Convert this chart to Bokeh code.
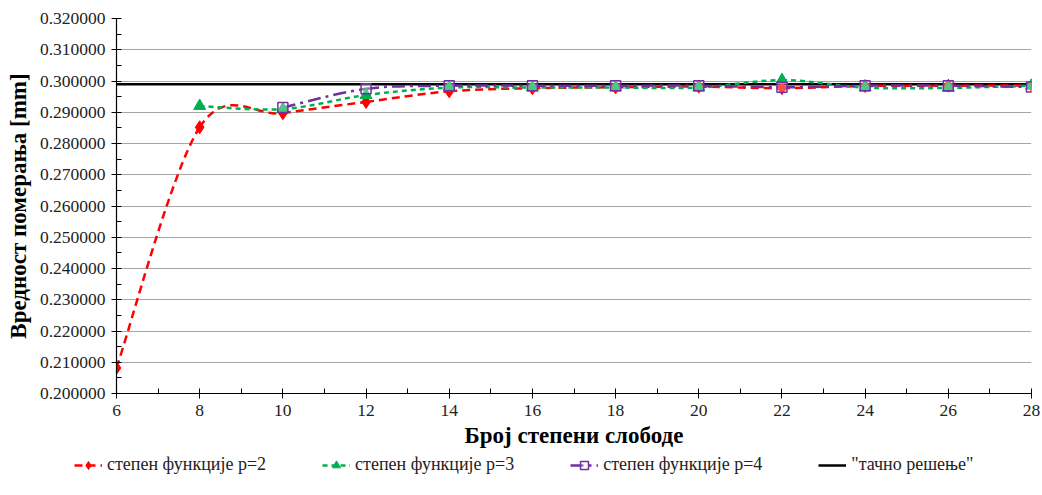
from bokeh.plotting import figure
from bokeh.layouts import column
from bokeh.models import Legend, LegendItem, PrintfTickFormatter, FixedTicker, Range1d
from bokeh.embed import file_html
from bokeh.resources import INLINE

x_p2 = [6, 8, 10, 12, 14, 16, 18, 20, 22, 24, 26, 28]
y_p2 = [0.2082, 0.2852, 0.2897, 0.2933, 0.2967, 0.2977, 0.2980, 0.2982, 0.2977, 0.2984, 0.2985, 0.2986]
x_p3 = [8, 10, 12, 14, 16, 18, 20, 22, 24, 26, 28]
y_p3 = [0.2920, 0.2910, 0.2955, 0.2979, 0.2979, 0.2979, 0.2979, 0.3003, 0.2979, 0.2978, 0.2985]
x_p4 = [10, 12, 14, 16, 18, 20, 22, 24, 26, 28]
y_p4 = [0.2915, 0.2975, 0.2985, 0.2985, 0.2985, 0.2985, 0.2980, 0.2985, 0.2985, 0.2981]
x_exact = [6, 28]
y_exact = [0.2990, 0.2990]

x_ticks = [6, 8, 10, 12, 14, 16, 18, 20, 22, 24, 26, 28]
y_ticks = [0.20, 0.21, 0.22, 0.23, 0.24, 0.25, 0.26, 0.27, 0.28, 0.29, 0.30, 0.31, 0.32]
labels = ["степен функције p=2", "степен функције p=3", "степен функције p=4", "\"тачно решење\""]

RED = "#FF0000"
GREEN = "#00B050"
PURPLE = "#7030A0"
FONT = "Liberation Serif"


def smooth_segments(xs, ys):
    """Excel-style smoothed line: one cubic Bezier per pair of data points,
    control points derived from neighbouring data points (Catmull-Rom, 1/6)."""
    n = len(xs)
    seg = dict(x0=[], y0=[], x1=[], y1=[], cx0=[], cy0=[], cx1=[], cy1=[])
    for i in range(n - 1):
        xp, yp = (xs[i - 1], ys[i - 1]) if i > 0 else (xs[i], ys[i])
        xn, yn = (xs[i + 2], ys[i + 2]) if i + 2 < n else (xs[i + 1], ys[i + 1])
        seg["x0"].append(xs[i]); seg["y0"].append(ys[i])
        seg["x1"].append(xs[i + 1]); seg["y1"].append(ys[i + 1])
        seg["cx0"].append(xs[i] + (xs[i + 1] - xp) / 6.0)
        seg["cy0"].append(ys[i] + (ys[i + 1] - yp) / 6.0)
        seg["cx1"].append(xs[i + 1] - (xn - xs[i]) / 6.0)
        seg["cy1"].append(ys[i + 1] - (yn - ys[i]) / 6.0)
    return seg


p = figure(width=1042, height=450, output_backend="svg", toolbar_location=None,
           x_range=Range1d(6, 28), y_range=Range1d(0.20, 0.32),
           min_border_left=116, min_border_right=11, min_border_top=18, min_border_bottom=57)
p.outline_line_color = None
p.background_fill_color = "white"
p.border_fill_color = "white"
p.frame_align = False

p.xgrid.grid_line_color = None
p.ygrid.grid_line_color = "#A6A6A6"
p.ygrid.grid_line_width = 1.2
p.ygrid.ticker = FixedTicker(ticks=y_ticks)

p.xaxis.ticker = FixedTicker(ticks=x_ticks, minor_ticks=[7, 9, 11, 13, 15, 17, 19, 21, 23, 25, 27])
p.yaxis.ticker = FixedTicker(ticks=y_ticks, minor_ticks=[0.205 + 0.01 * i for i in range(12)])
p.yaxis.formatter = PrintfTickFormatter(format="%.6f")

for ax in (p.xaxis, p.yaxis):
    ax.axis_line_color = "black"
    ax.axis_line_width = 1.2
    ax.major_tick_line_color = "black"
    ax.minor_tick_line_color = "black"
    ax.major_tick_in = 5
    ax.major_tick_out = 5
    ax.minor_tick_in = 5
    ax.minor_tick_out = 0
    ax.major_label_text_font = FONT
    ax.major_label_text_font_size = "17.5px"
    ax.major_label_text_color = "#222222"
    ax.axis_label_text_font = FONT
    ax.axis_label_text_font_size = "23px"
    ax.axis_label_text_font_style = "bold"
    ax.axis_label_text_color = "black"

p.xaxis.axis_label = "Број степени слободе"
p.yaxis.axis_label = "Вредност померања [mm]"
p.xaxis.axis_label_standoff = 4
p.yaxis.axis_label_standoff = 6
p.xaxis.major_label_standoff = 6
p.yaxis.major_label_standoff = 6

DASH2 = "8 5"
DASH3 = "5 4"
DASH4 = "13 5 3 5"

# main chart: smoothed lines (Bezier through the data points) + markers
p.line(x_exact, y_exact, line_color="black", line_width=2.5)
p.bezier(line_color=RED, line_width=2.5, line_dash=DASH2, **smooth_segments(x_p2, y_p2))
p.bezier(line_color=GREEN, line_width=2.5, line_dash=DASH3, **smooth_segments(x_p3, y_p3))
p.bezier(line_color=PURPLE, line_width=2.5, line_dash=DASH4, **smooth_segments(x_p4, y_p4))
p.scatter(x_p2, y_p2, marker="diamond", size=13, fill_color=RED, line_color=RED)
p.scatter(x_p3, y_p3, marker="triangle", size=12, fill_color=GREEN, line_color=GREEN)
p.scatter(x_p4, y_p4, marker="square", size=10, fill_color="white", fill_alpha=0.3,
          line_color=PURPLE, line_width=1.5)

# legend strip: same series drawn in a figure whose ranges lie outside the data
lg = figure(width=1042, height=45, output_backend="svg", toolbar_location=None,
            x_range=Range1d(100, 101), y_range=Range1d(100, 101),
            x_axis_type=None, y_axis_type=None,
            min_border_left=0, min_border_right=0, min_border_top=0, min_border_bottom=0)
lg.outline_line_color = None
lg.xgrid.grid_line_color = None
lg.ygrid.grid_line_color = None
lg.frame_align = False
l2 = lg.line(x_p2, y_p2, line_color=RED, line_width=2.5, line_dash=DASH2)
m2 = lg.scatter(x_p2, y_p2, marker="diamond", size=13, fill_color=RED, line_color=RED)
l3 = lg.line(x_p3, y_p3, line_color=GREEN, line_width=2.5, line_dash=DASH3)
m3 = lg.scatter(x_p3, y_p3, marker="triangle", size=12, fill_color=GREEN, line_color=GREEN)
l4 = lg.line(x_p4, y_p4, line_color=PURPLE, line_width=2.5, line_dash=DASH4)
m4 = lg.scatter(x_p4, y_p4, marker="square", size=10, fill_color="white", fill_alpha=0.3,
                line_color=PURPLE, line_width=1.5)
le = lg.line(x_exact, y_exact, line_color="black", line_width=2.5)
groups = [[l2, m2], [l3, m3], [l4, m4], [le]]

legend = Legend(items=[LegendItem(label=lab, renderers=rs) for lab, rs in zip(labels, groups)],
                orientation="horizontal")
legend.label_text_font = FONT
legend.label_text_font_size = "18px"
legend.label_text_color = "#222222"
legend.border_line_color = None
legend.background_fill_alpha = 0
legend.glyph_width = 28
legend.label_standoff = 5
legend.spacing = 56
legend.padding = 2
legend.margin = 0
legend.location = (74, 20)
lg.add_layout(legend, "center")

open("out.html", "w").write(file_html(column(p, lg, spacing=0), INLINE))
